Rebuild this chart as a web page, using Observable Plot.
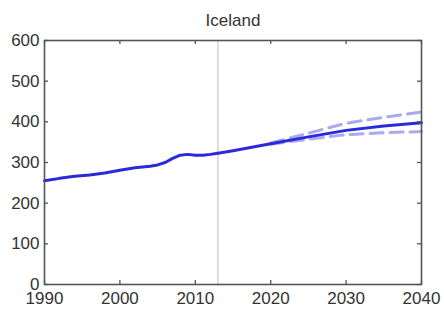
<!DOCTYPE html>
<html>
<head>
<meta charset="utf-8">
<script src="https://cdn.jsdelivr.net/npm/d3@7"></script>
<script src="https://cdn.jsdelivr.net/npm/@observablehq/plot@0.6"></script>
<style>
  html, body { margin: 0; padding: 0; background: #fff; }
  #chart svg { display: block; }
</style>
</head>
<body>
<div id="chart"></div>
<script>
const title = "Iceland";
const histYears = [1990, 1992, 1994, 1996, 1998, 2000, 2002, 2004, 2005, 2006, 2007, 2008, 2009, 2010, 2011, 2012, 2013];
const histValues = [255, 261, 266, 269, 274, 281, 287, 291, 294, 300, 310, 318, 320, 318, 318, 320, 323];
const projYears = [2013, 2015, 2020, 2025, 2030, 2035, 2040];
const projMain = [323, 329, 346, 363, 379, 390, 398];
const highYears = [2020, 2025, 2030, 2035, 2040];
const projHigh = [348, 372, 396, 411, 424];
const projLow = [345, 357, 368, 373, 376];
const xTicks = [1990, 2000, 2010, 2020, 2030, 2040];
const yTicks = [0, 100, 200, 300, 400, 500, 600];
const markerYear = 2013;

const mainLine = histYears.map((x, i) => ({x, y: histValues[i]}))
  .concat(projYears.slice(1).map((x, i) => ({x, y: projMain[i + 1]})));
const highLine = highYears.map((x, i) => ({x, y: projHigh[i]}));
const lowLine = highYears.map((x, i) => ({x, y: projLow[i]}));

const W = 444, H = 309;
const mL = 44, mR = 23, mT = 40, mB = 25;
const fw = W - mL - mR, fh = H - mT - mB;
const tk = 4;

const chart = Plot.plot({
  width: W, height: H,
  marginLeft: mL, marginRight: mR, marginTop: mT, marginBottom: mB,
  style: {fontFamily: "'Liberation Sans', Arial, sans-serif", fontSize: "17px", color: "#333", background: "#fff"},
  x: {domain: [1990, 2040], label: null},
  y: {domain: [0, 600], label: null},
  marks: [
    Plot.ruleX([markerYear], {stroke: "#c8c8c8", strokeWidth: 1.2}),
    Plot.line(highLine, {x: "x", y: "y", stroke: "#aaaaf2", strokeWidth: 3, strokeDasharray: "13,7", curve: "monotone-x"}),
    Plot.line(lowLine, {x: "x", y: "y", stroke: "#aaaaf2", strokeWidth: 3, strokeDasharray: "13,7", curve: "monotone-x"}),
    Plot.line(mainLine, {x: "x", y: "y", stroke: "#2a2ad8", strokeWidth: 3}),
    Plot.ruleX(xTicks, {x: d => d, insetTop: fh - tk, stroke: "#555", strokeWidth: 1.3}),
    Plot.ruleX(xTicks, {x: d => d, insetBottom: fh - tk, stroke: "#555", strokeWidth: 1.3}),
    Plot.ruleY(yTicks, {y: d => d, insetRight: fw - tk, stroke: "#555", strokeWidth: 1.3}),
    Plot.ruleY(yTicks, {y: d => d, insetLeft: fw - tk, stroke: "#555", strokeWidth: 1.3}),
    Plot.frame({stroke: "#555", strokeWidth: 1.6}),
    Plot.axisX(xTicks, {tickSize: 0, tickPadding: 7, tickFormat: d => String(d), fill: "#333", fontSize: 17, label: null}),
    Plot.axisY(yTicks, {tickSize: 0, tickPadding: 5, fill: "#333", fontSize: 17, label: null}),
    Plot.text([title], {frameAnchor: "top", dy: -15, fontSize: 17, fill: "#333", lineAnchor: "bottom"})
  ]
});
document.getElementById("chart").appendChild(chart);
</script>
</body>
</html>
